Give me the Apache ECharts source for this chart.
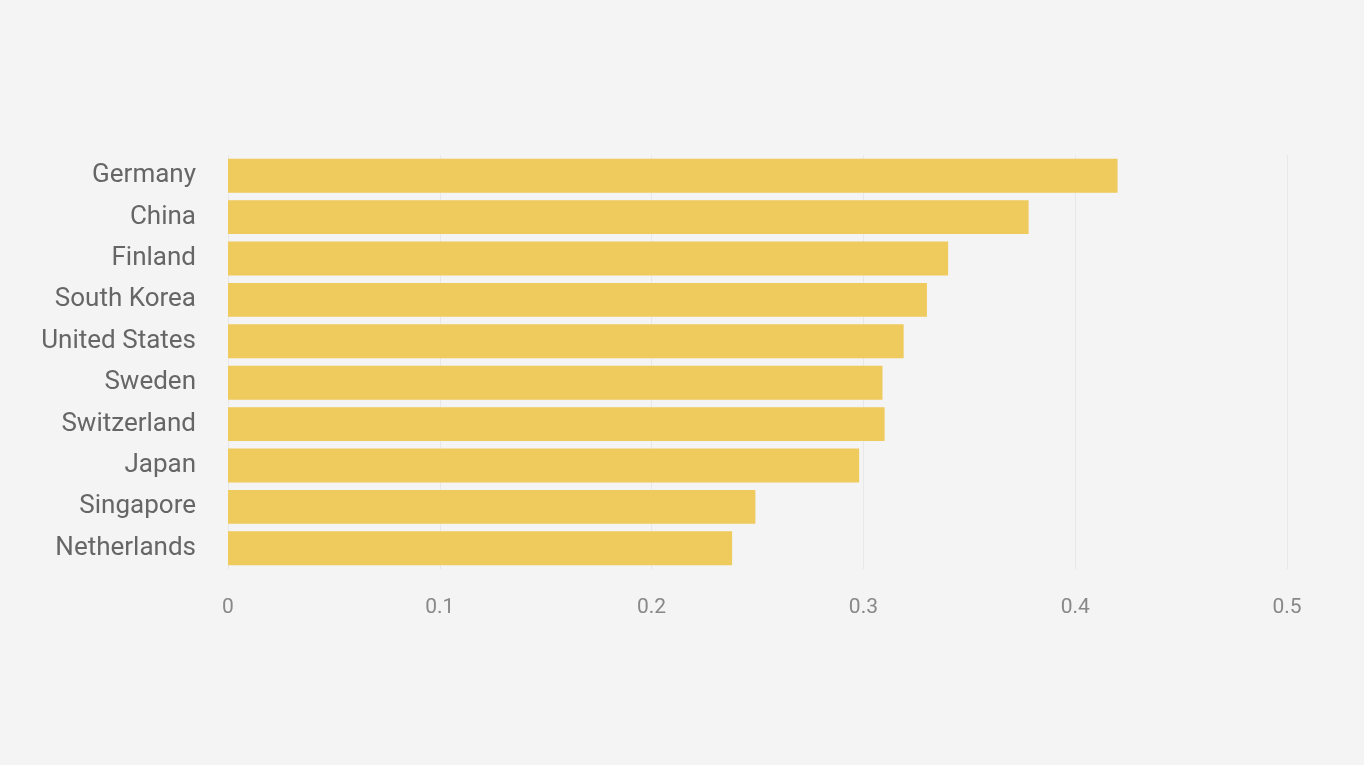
<!DOCTYPE html>
<html>
<head>
<meta charset="utf-8">
<script src="https://cdn.jsdelivr.net/npm/echarts@6/dist/echarts.min.js"></script>
<style>
  html, body { margin: 0; padding: 0; background: #f4f4f4; }
  #chart { width: 1364px; height: 765px; }
</style>
</head>
<body>
<div id="chart"></div>
<script>
const countries = ["Germany", "China", "Finland", "South Korea", "United States",
  "Sweden", "Switzerland", "Japan", "Singapore", "Netherlands"];
const values = [0.42, 0.378, 0.34, 0.33, 0.319, 0.309, 0.31, 0.298, 0.249, 0.238];
const ticks = [0, 0.1, 0.2, 0.3, 0.4, 0.5];

const chart = echarts.init(document.querySelector("#chart"));
chart.setOption({
  backgroundColor: "#f4f4f4",
  animation: false,
  grid: { left: 228, right: 77, top: 155, bottom: 196 },
  xAxis: {
    type: "value",
    min: ticks[0],
    max: ticks[ticks.length - 1],
    interval: 0.1,
    axisLine: { show: false },
    axisTick: { show: false },
    splitLine: { lineStyle: { color: "#e8e8e8" } },
    axisLabel: {
      color: "#888",
      fontSize: 21,
      margin: 28,
      fontFamily: "Roboto",
      formatter: v => (v === 0 ? "0" : v.toFixed(1))
    }
  },
  yAxis: {
    type: "category",
    data: countries,
    inverse: true,
    axisLine: { show: false },
    axisTick: { show: false },
    axisLabel: { color: "#666", fontSize: 26, margin: 32, fontFamily: "Roboto" }
  },
  series: [{
    type: "bar",
    data: values,
    barCategoryGap: "18%",
    itemStyle: { color: "#efca5c" }
  }]
});
</script>
</body>
</html>
